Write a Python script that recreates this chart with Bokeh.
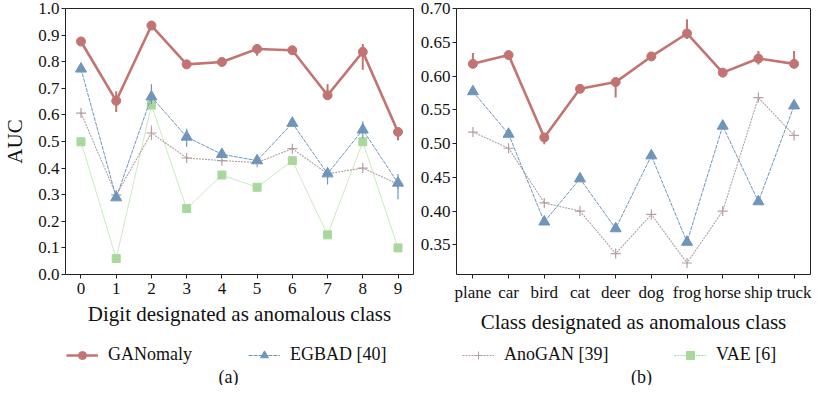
from bokeh.plotting import figure
from bokeh.layouts import column, row
from bokeh.models import (FixedTicker, PrintfTickFormatter, Range1d, Label,
                          Legend, LegendItem, ColumnDataSource)
from bokeh.embed import file_html
from bokeh.resources import INLINE
import math

# ---------------- data ----------------
digit_labels = ["0", "1", "2", "3", "4", "5", "6", "7", "8", "9"]
mnist_ganomaly = [0.876, 0.653, 0.936, 0.790, 0.799, 0.848, 0.843, 0.674, 0.837, 0.536]
mnist_ganomaly_lo = [0.870, 0.611, 0.931, 0.786, 0.795, 0.822, 0.830, 0.660, 0.770, 0.505]
mnist_ganomaly_hi = [0.882, 0.689, 0.941, 0.794, 0.803, 0.856, 0.860, 0.715, 0.867, 0.548]
mnist_egbad = [0.773, 0.289, 0.668, 0.517, 0.452, 0.428, 0.569, 0.379, 0.544, 0.344]
mnist_egbad_lo = [0.768, 0.284, 0.640, 0.480, 0.446, 0.422, 0.563, 0.338, 0.511, 0.283]
mnist_egbad_hi = [0.778, 0.294, 0.715, 0.548, 0.458, 0.434, 0.575, 0.390, 0.575, 0.378]
mnist_anogan = [0.607, 0.299, 0.532, 0.438, 0.428, 0.421, 0.473, 0.379, 0.400, 0.340]
mnist_anogan_lo = [0.602, 0.295, 0.505, 0.434, 0.424, 0.417, 0.468, 0.375, 0.396, 0.336]
mnist_anogan_hi = [0.612, 0.303, 0.560, 0.442, 0.432, 0.425, 0.478, 0.383, 0.404, 0.344]
mnist_vae = [0.499, 0.060, 0.637, 0.248, 0.374, 0.328, 0.428, 0.149, 0.499, 0.100]

cifar_labels = ["plane", "car", "bird", "cat", "deer", "dog", "frog", "horse", "ship", "truck"]
cifar_ganomaly = [0.618, 0.631, 0.509, 0.581, 0.591, 0.629, 0.663, 0.605, 0.626, 0.618]
cifar_ganomaly_lo = [0.614, 0.628, 0.499, 0.577, 0.568, 0.624, 0.655, 0.601, 0.617, 0.614]
cifar_ganomaly_hi = [0.634, 0.634, 0.513, 0.586, 0.594, 0.634, 0.684, 0.610, 0.637, 0.637]
cifar_egbad = [0.577, 0.514, 0.384, 0.448, 0.374, 0.482, 0.354, 0.526, 0.414, 0.556]
cifar_anogan = [0.517, 0.493, 0.412, 0.400, 0.337, 0.395, 0.323, 0.400, 0.568, 0.512]

mnist_yticks = [0.0, 0.1, 0.2, 0.3, 0.4, 0.5, 0.6, 0.7, 0.8, 0.9, 1.0]
cifar_yticks = [0.35, 0.40, 0.45, 0.50, 0.55, 0.60, 0.65, 0.70]

series_names = ["GANomaly", "EGBAD [40]", "AnoGAN [39]", "VAE [6]"]

# ---------------- styles ----------------
C_GAN = "#c27472"
C_EGB = "#6f95ba"
C_ANO = "#b3a0a3"
C_VAE = "#a9d89d"
FONT = "Liberation Serif"
TXT = "#111111"


def style(p):
    p.outline_line_color = "#222222"
    p.outline_line_width = 1
    p.xgrid.visible = False
    p.ygrid.visible = False
    for ax in (p.xaxis[0], p.yaxis[0]):
        ax.axis_line_color = None
        ax.major_tick_out = 4
        ax.major_tick_in = 0
        ax.minor_tick_out = 0
        ax.minor_tick_in = 0
        ax.major_tick_line_color = "#222222"
        ax.major_label_text_font = FONT
        ax.major_label_text_font_size = "17px"
        ax.major_label_text_color = TXT
        ax.axis_label_text_font = FONT
        ax.axis_label_text_font_size = "21px"
        ax.axis_label_text_font_style = "normal"
        ax.axis_label_text_color = TXT
    p.xaxis[0].major_label_standoff = 4
    p.yaxis[0].major_label_standoff = 2
    p.xaxis[0].axis_label_standoff = 5
    p.yaxis[0].axis_label_standoff = 8


def errbars(p, xs, lo, hi, color, width):
    src = ColumnDataSource(dict(x=xs, lo=lo, hi=hi))
    p.segment(x0="x", y0="lo", x1="x", y1="hi", source=src,
              line_color=color, line_width=width)


TOP_H = 336

# ---------------- left plot (MNIST) ----------------
xd = list(range(len(digit_labels)))
p1 = figure(width=415, height=TOP_H, x_range=Range1d(-0.44, len(xd) - 0.56),
            y_range=Range1d(0, 1.0), output_backend="svg", toolbar_location=None,
            min_border_left=50, min_border_right=2, min_border_top=8,
            min_border_bottom=58)
style(p1)
p1.xaxis[0].ticker = FixedTicker(ticks=xd)
p1.xaxis[0].major_label_overrides = {i: s for i, s in zip(xd, digit_labels)}
p1.yaxis[0].ticker = FixedTicker(ticks=mnist_yticks)
p1.yaxis[0].formatter = PrintfTickFormatter(format="%.1f")
p1.xaxis[0].axis_label = "Digit designated as anomalous class"
p1.yaxis[0].axis_label = "AUC"

p1.line(xd, mnist_vae, line_color=C_VAE, line_width=0.8, line_alpha=0.75)
p1.scatter(xd, mnist_vae, marker="square", size=8, fill_color=C_VAE, line_color=C_VAE)
p1.line(xd, mnist_anogan, line_color=C_ANO, line_width=1.1, line_dash="2 1")
errbars(p1, xd, mnist_anogan_lo, mnist_anogan_hi, C_ANO, 1)
p1.scatter(xd, mnist_anogan, marker="cross", size=10, line_color=C_ANO, line_width=1.2)
p1.line(xd, mnist_egbad, line_color=C_EGB, line_width=1, line_dash="4 1")
errbars(p1, xd, mnist_egbad_lo, mnist_egbad_hi, C_EGB, 1.2)
p1.scatter(xd, mnist_egbad, marker="triangle", size=11, fill_color=C_EGB, line_color=C_EGB)
p1.line(xd, mnist_ganomaly, line_color=C_GAN, line_width=2.6)
errbars(p1, xd, mnist_ganomaly_lo, mnist_ganomaly_hi, C_GAN, 2)
p1.scatter(xd, mnist_ganomaly, marker="circle", size=9, fill_color=C_GAN, line_color=C_GAN)

# ---------------- right plot (CIFAR10) ----------------
xc = list(range(len(cifar_labels)))
p2 = figure(width=398, height=TOP_H, x_range=Range1d(-0.46, len(xc) - 0.54),
            y_range=Range1d(0.306, 0.70), output_backend="svg", toolbar_location=None,
            min_border_left=41, min_border_right=3, min_border_top=8,
            min_border_bottom=58)
style(p2)
p2.xaxis[0].ticker = FixedTicker(ticks=xc)
p2.xaxis[0].major_label_overrides = {i: s for i, s in zip(xc, cifar_labels)}
p2.yaxis[0].ticker = FixedTicker(ticks=cifar_yticks)
p2.yaxis[0].formatter = PrintfTickFormatter(format="%.2f")
p2.xaxis[0].axis_label = "Class designated as anomalous class"

p2.line(xc, cifar_anogan, line_color=C_ANO, line_width=1.1, line_dash="2 1")
p2.scatter(xc, cifar_anogan, marker="cross", size=10, line_color=C_ANO, line_width=1.2)
p2.line(xc, cifar_egbad, line_color=C_EGB, line_width=1, line_dash="4 1")
p2.scatter(xc, cifar_egbad, marker="triangle", size=11, fill_color=C_EGB, line_color=C_EGB)
p2.line(xc, cifar_ganomaly, line_color=C_GAN, line_width=2.6)
errbars(p2, xc, cifar_ganomaly_lo, cifar_ganomaly_hi, C_GAN, 2)
p2.scatter(xc, cifar_ganomaly, marker="circle", size=9, fill_color=C_GAN, line_color=C_GAN)

# ---------------- legend + captions ----------------
BOT_H = 385 - TOP_H
p3 = figure(width=813, height=BOT_H, x_range=Range1d(0, 813), y_range=Range1d(0, BOT_H),
            output_backend="svg", toolbar_location=None, x_axis_type=None,
            y_axis_type=None, min_border_left=0, min_border_right=0,
            min_border_top=0, min_border_bottom=0)
p3.outline_line_color = None
p3.xgrid.visible = False
p3.ygrid.visible = False


def hidden():
    # one missing point: nothing is drawn in the plot, only the legend swatch
    return ColumnDataSource(dict(x=[float("nan")], y=[float("nan")]))


specs = [
    (C_GAN, 2.6, "solid", "circle", 2),
    (C_EGB, 1.0, "4 1", "triangle", 1),
    (C_ANO, 1.0, "2 1", "cross", 0),
    (C_VAE, 1.0, "2 1", "square", 0),
]
legend_x = [66, 248, 462, 674]
for name, (c, lw, dash, mk, barw), lx in zip(series_names, specs, legend_x):
    rends = [p3.line("x", "y", source=hidden(), line_color=c, line_width=lw, line_dash=dash)]
    if barw:
        rends.append(p3.scatter("x", "y", source=hidden(), marker="dash", angle=math.pi / 2,
                                size=12, line_color=c, line_width=barw))
    if mk == "cross":
        rends.append(p3.scatter("x", "y", source=hidden(), marker=mk, size=10,
                                line_color=c, line_width=1))
    else:
        rends.append(p3.scatter("x", "y", source=hidden(), marker=mk, size=9,
                                fill_color=c, line_color=c))
    leg = Legend(items=[LegendItem(label=name, renderers=rends)], location=(lx, 20),
                 orientation="horizontal", padding=0, margin=0,
                 glyph_width=32, glyph_height=20, label_standoff=10,
                 label_text_font=FONT, label_text_font_size="18px",
                 label_text_color=TXT, border_line_alpha=0,
                 background_fill_alpha=0)
    p3.add_layout(leg, "center")

p3.add_layout(Label(x=228, y=9, text="(a)", text_align="center", text_baseline="middle",
                    text_font=FONT, text_font_size="18px", text_color=TXT))
p3.add_layout(Label(x=641, y=9, text="(b)", text_align="center", text_baseline="middle",
                    text_font=FONT, text_font_size="18px", text_color=TXT))

layout = column(row(p1, p2), p3)
open("out.html", "w").write(file_html(layout, INLINE))
